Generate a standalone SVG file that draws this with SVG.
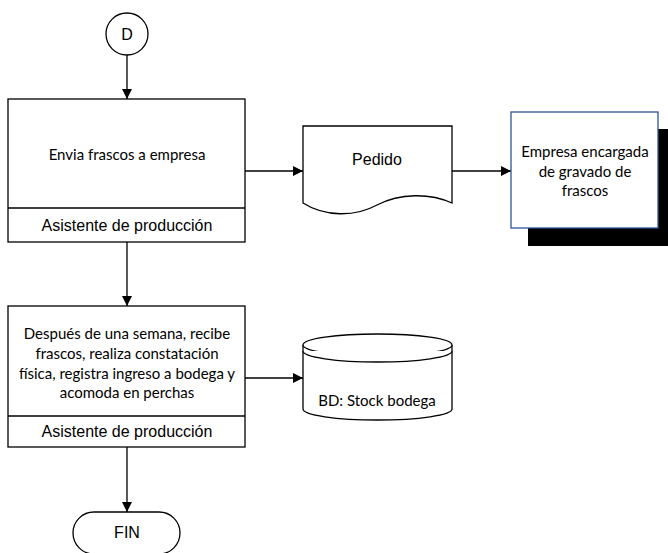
<svg xmlns="http://www.w3.org/2000/svg" width="668" height="553" viewBox="0 0 668 553">
  <style>
    .shape { fill: #ffffff; stroke: #000000; stroke-width: 1.3; }
    .edge { fill: none; stroke: #000000; stroke-width: 1.3; marker-end: url(#arrow); }
    .sans { font-family: "Liberation Sans", Arial, sans-serif; font-size: 16px; fill: #000000; text-anchor: middle; }
    .body { font-family: Lato, "Open Sans", sans-serif; font-size: 15px; fill: #000000; text-anchor: middle; }
  </style>
  <defs>
    <marker id="arrow" viewBox="0 0 10 10" refX="10" refY="5" markerWidth="10" markerHeight="10" markerUnits="userSpaceOnUse" orient="auto">
      <path d="M0,0 L10,5 L0,10 Z" fill="#000000"/>
    </marker>
  </defs>
  <rect width="668" height="553" fill="#ffffff"/>

  <g id="connectors">
    <line class="edge" x1="127" y1="55" x2="127" y2="99"/>
    <line class="edge" x1="245" y1="171" x2="303" y2="171"/>
    <line class="edge" x1="452" y1="171" x2="511" y2="171"/>
    <line class="edge" x1="127" y1="242" x2="127" y2="306"/>
    <line class="edge" x1="245" y1="378" x2="303" y2="378"/>
    <line class="edge" x1="127" y1="447" x2="127" y2="512"/>
  </g>

  <g id="start-d">
    <circle class="shape" cx="127" cy="34" r="21"/>
    <text class="sans" x="127" y="40">D</text>
  </g>

  <g id="envia-frascos">
    <rect class="shape" x="8" y="99" width="237" height="143"/>
    <line class="shape" x1="8" y1="208" x2="245" y2="208"/>
    <text class="body" x="127" y="160">Envia frascos a empresa</text>
    <text class="sans" x="127" y="231">Asistente de producción</text>
  </g>

  <g id="pedido">
    <path class="shape" d="M303,126 H452 V203 C430,193 400,193 377,205 C355,217 325,217 303,203 Z"/>
    <text class="sans" x="377" y="165">Pedido</text>
  </g>

  <g id="empresa-gravado">
    <rect x="528" y="129" width="150" height="117" fill="#000000"/>
    <rect x="511" y="112" width="147" height="116" fill="#ffffff" stroke="#2F5597" stroke-width="1.3"/>
    <text class="body" x="585" y="157">Empresa encargada</text>
    <text class="body" x="585" y="177">de gravado de</text>
    <text class="body" x="585" y="196">frascos</text>
  </g>

  <g id="recibe-frascos">
    <rect class="shape" x="8" y="306" width="237" height="141"/>
    <line class="shape" x1="8" y1="416" x2="245" y2="416"/>
    <text class="body" x="127" y="339">Después de una semana, recibe</text>
    <text class="body" x="127" y="359">frascos, realiza constatación</text>
    <text class="body" x="127" y="379">física, registra ingreso a bodega y</text>
    <text class="body" x="127" y="398">acomoda en perchas</text>
    <text class="sans" x="127" y="437">Asistente de producción</text>
  </g>

  <g id="stock-bodega">
    <path class="shape" d="M303,345 V409 A74.5,11 0 0 0 452,409 V345"/>
    <ellipse class="shape" cx="377.5" cy="345" rx="74.5" ry="11"/>
    <path class="shape" fill="none" d="M303,351 A74.5,11 0 0 0 452,351"/>
    <text class="body" x="377" y="406">BD: Stock bodega</text>
  </g>

  <g id="fin">
    <rect class="shape" x="73" y="512" width="107" height="42" rx="21"/>
    <text class="sans" x="127" y="538" font-size="15">FIN</text>
  </g>
</svg>
